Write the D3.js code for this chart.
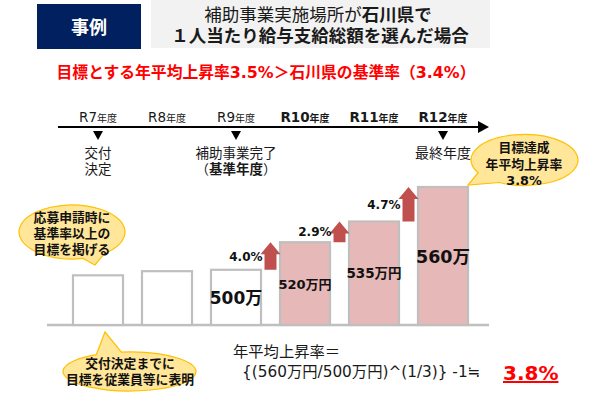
<!DOCTYPE html>
<html>
<head>
<meta charset="utf-8">
<script src="https://cdn.jsdelivr.net/npm/d3@7"></script>
<style>
  body { margin: 0; background: #fff; }
  svg { display: block; font-family: "DejaVu Sans", "Noto Sans CJK JP", sans-serif; }
</style>
</head>
<body>
<div id="chart"></div>
<script>
// data
const years = ['R7', 'R8', 'R9', 'R10', 'R11', 'R12']
const salary = [496, 499, 500, 520, 535, 560] // 万円 (R7, R8 are unlabelled)
const salaryLabels = ['', '', '500万', '520万円', '535万円', '560万']
const growthRates = ['4.0%', '2.9%', '4.7%']
const boldYears = ['R10', 'R11', 'R12']
const baseYear = 'R9'
const events = [
  { year: 'R7', lines: [['交付'], ['決定']] },
  { year: 'R9', lines: [['補助事業完了'], ['（', '基準年度', '）']] },
  { year: 'R12', lines: [['最終年度']] }
]

const W = 594
const H = 398
const labelFont = [0, 0, 17, 13, 13.5, 17.5]

const svg = d3.select('#chart').append('svg').attr('width', W).attr('height', H)

const x = d3
  .scaleBand()
  .domain(years)
  .range([63.5, 477.5])
  .paddingInner(0.275)
  .paddingOuter(0.1375)

const y = d3.scaleLinear().domain([460, 560]).range([325, 187])

// header
svg.append('rect').attr('x', 37).attr('y', 4).attr('width', 104).attr('height', 45).attr('fill', '#002060')
svg.append('text').attr('x', 89).attr('y', 34).attr('text-anchor', 'middle')
  .attr('fill', '#fff').attr('font-size', 18).attr('font-weight', 'bold').text('事例')

svg.append('rect').attr('x', 151).attr('y', 0).attr('width', 339).attr('height', 48).attr('fill', '#F2F2F2')
const t1 = svg.append('text').attr('x', 318).attr('y', 21).attr('text-anchor', 'middle')
  .attr('font-size', 17.5).attr('fill', '#1a1a1a')
t1.append('tspan').text('補助事業実施場所が')
t1.append('tspan').attr('font-weight', 'bold').text('石川県で')
svg.append('text').attr('x', 320).attr('y', 42).attr('text-anchor', 'middle')
  .attr('font-size', 17.5).attr('font-weight', 'bold').attr('fill', '#1a1a1a')
  .text('１人当たり給与支給総額を選んだ場合')

svg.append('text').attr('x', 266).attr('y', 78).attr('text-anchor', 'middle')
  .attr('font-size', 15.8).attr('font-weight', 'bold').attr('fill', '#FF0000')
  .text('目標とする年平均上昇率3.5%＞石川県の基準率（3.4%）')

// timeline
const cx = (d) => x(d) + x.bandwidth() / 2
svg.append('line').attr('x1', 58).attr('x2', 480).attr('y1', 127).attr('y2', 127)
  .attr('stroke', '#000').attr('stroke-width', 2)
svg.append('path').attr('d', 'M478,121L489,127L478,133Z').attr('fill', '#000')

const yearLabel = svg.append('g').selectAll('text').data(years).join('text')
  .attr('x', cx).attr('y', 122).attr('text-anchor', 'middle')
  .attr('font-weight', (d) => (boldYears.includes(d) ? 'bold' : 'normal'))
  .attr('fill', '#1a1a1a')
yearLabel.append('tspan').attr('font-size', 13.5).text((d) => d)
yearLabel.append('tspan').attr('font-size', 10).text('年度')

const ev = svg.append('g').selectAll('g').data(events).join('g')
ev.append('path')
  .attr('d', (d) => `M${cx(d.year) - 5},131L${cx(d.year) + 5},131L${cx(d.year)},140Z`)
  .attr('fill', '#000')
ev.each(function (d) {
  const g = d3.select(this)
  d.lines.forEach((parts, i) => {
    const t = g.append('text').attr('x', cx(d.year)).attr('y', 158 + i * 16)
      .attr('text-anchor', 'middle').attr('font-size', d.year === 'R12' ? 14 : 13.5)
      .attr('fill', '#1a1a1a')
    parts.forEach((p, j) => {
      t.append('tspan').attr('font-weight', parts.length > 1 && j === 1 ? 'bold' : 'normal').text(p)
    })
  })
})

// bars
svg.append('line').attr('x1', 47).attr('x2', 489).attr('y1', y(460)).attr('y2', y(460))
  .attr('stroke', '#BFBFBF').attr('stroke-width', 2.5)

const bi = years.indexOf(baseYear)
svg.append('g').selectAll('rect').data(years).join('rect')
  .attr('x', (d) => x(d))
  .attr('y', (d, i) => y(salary[i]))
  .attr('width', x.bandwidth())
  .attr('height', (d, i) => y(460) - y(salary[i]))
  .attr('fill', (d, i) => (i > bi ? '#E6B8B7' : '#fff'))
  .attr('stroke', '#BFBFBF')
  .attr('stroke-width', 2.2)

svg.append('g').selectAll('text').data(years).join('text')
  .attr('x', cx)
  .attr('y', (d, i) => (y(salary[i]) + y(460)) / 2 + labelFont[i] * 0.38)
  .attr('text-anchor', 'middle')
  .attr('font-weight', 'bold')
  .attr('font-size', (d, i) => labelFont[i])
  .attr('fill', '#111')
  .text((d, i) => salaryLabels[i])

// growth arrows
const arrows = growthRates.map((r, i) => {
  const a = years[bi + i]
  const b = years[bi + i + 1]
  return { rate: r, xc: (x(a) + x.bandwidth() + x(b)) / 2, y0: y(salary[bi + i]), y1: y(salary[bi + i + 1]) }
})
const ag = svg.append('g').selectAll('g').data(arrows).join('g')
ag.append('path')
  .attr('d', (d) => {
    const hh = 12, hw = 10, sw = 6
    return `M${d.xc - sw},${d.y0}L${d.xc - sw},${d.y1 + hh}L${d.xc - hw},${d.y1 + hh}` +
      `L${d.xc},${d.y1}L${d.xc + hw},${d.y1 + hh}L${d.xc + sw},${d.y1 + hh}L${d.xc + sw},${d.y0}Z`
  })
  .attr('fill', '#C0504D')
ag.append('text')
  .attr('x', (d) => d.xc - 8)
  .attr('y', (d) => (d.y0 + d.y1) / 2 + 4.5)
  .attr('text-anchor', 'end')
  .attr('font-size', 12)
  .attr('font-weight', 'bold')
  .attr('fill', '#111')
  .text((d) => d.rate)

// callouts
function callout(c) {
  const p = (a) => [c.cx + c.rx * Math.cos((a * Math.PI) / 180), c.cy + c.ry * Math.sin((a * Math.PI) / 180)]
  const s = p(c.a2)
  const e = p(c.a1)
  const g = svg.append('g')
  g.append('path')
    .attr('d', `M${s}A${c.rx},${c.ry} 0 1 1 ${e}L${c.tip}Z`)
    .attr('fill', '#FFE699')
    .attr('stroke', '#FFC000')
    .attr('stroke-width', 1.2)
  g.selectAll('text').data(c.lines).join('text')
    .attr('x', c.tx)
    .attr('y', (d, i) => c.ty + i * c.lh)
    .attr('text-anchor', 'middle')
    .attr('font-size', 12.8)
    .attr('font-weight', 'bold')
    .attr('fill', '#111')
    .text((d) => d)
}
callout({ cx: 72, cy: 232, rx: 53, ry: 27, a1: 52, a2: 78, tip: [95, 265],
  lines: ['応募申請時に', '基準率以上の', '目標を掲げる'], tx: 72, ty: 222, lh: 16 })
callout({ cx: 129.5, cy: 371.5, rx: 66.5, ry: 19.5, a1: 240, a2: 263, tip: [105, 332],
  lines: ['交付決定までに', '目標を従業員等に表明'], tx: 130, ty: 368, lh: 16 })
callout({ cx: 524.5, cy: 160, rx: 53.5, ry: 25.5, a1: 118, a2: 150, tip: [468, 185],
  lines: ['目標達成', '年平均上昇率', '3.8%'], tx: 524, ty: 152, lh: 16.5 })

// formula
svg.append('text').attr('x', 233).attr('y', 357).attr('font-size', 15.3).attr('fill', '#1a1a1a')
  .text('年平均上昇率＝')
svg.append('text').attr('x', 242).attr('y', 377).attr('font-size', 15.3).attr('fill', '#1a1a1a')
  .text('{(560万円/500万円)^(1/3)} -1≒')
svg.append('text').attr('x', 503).attr('y', 380).attr('font-size', 20).attr('font-weight', 'bold')
  .attr('fill', '#FF0000').attr('text-decoration', 'underline').text('3.8%')
</script>
</body>
</html>
